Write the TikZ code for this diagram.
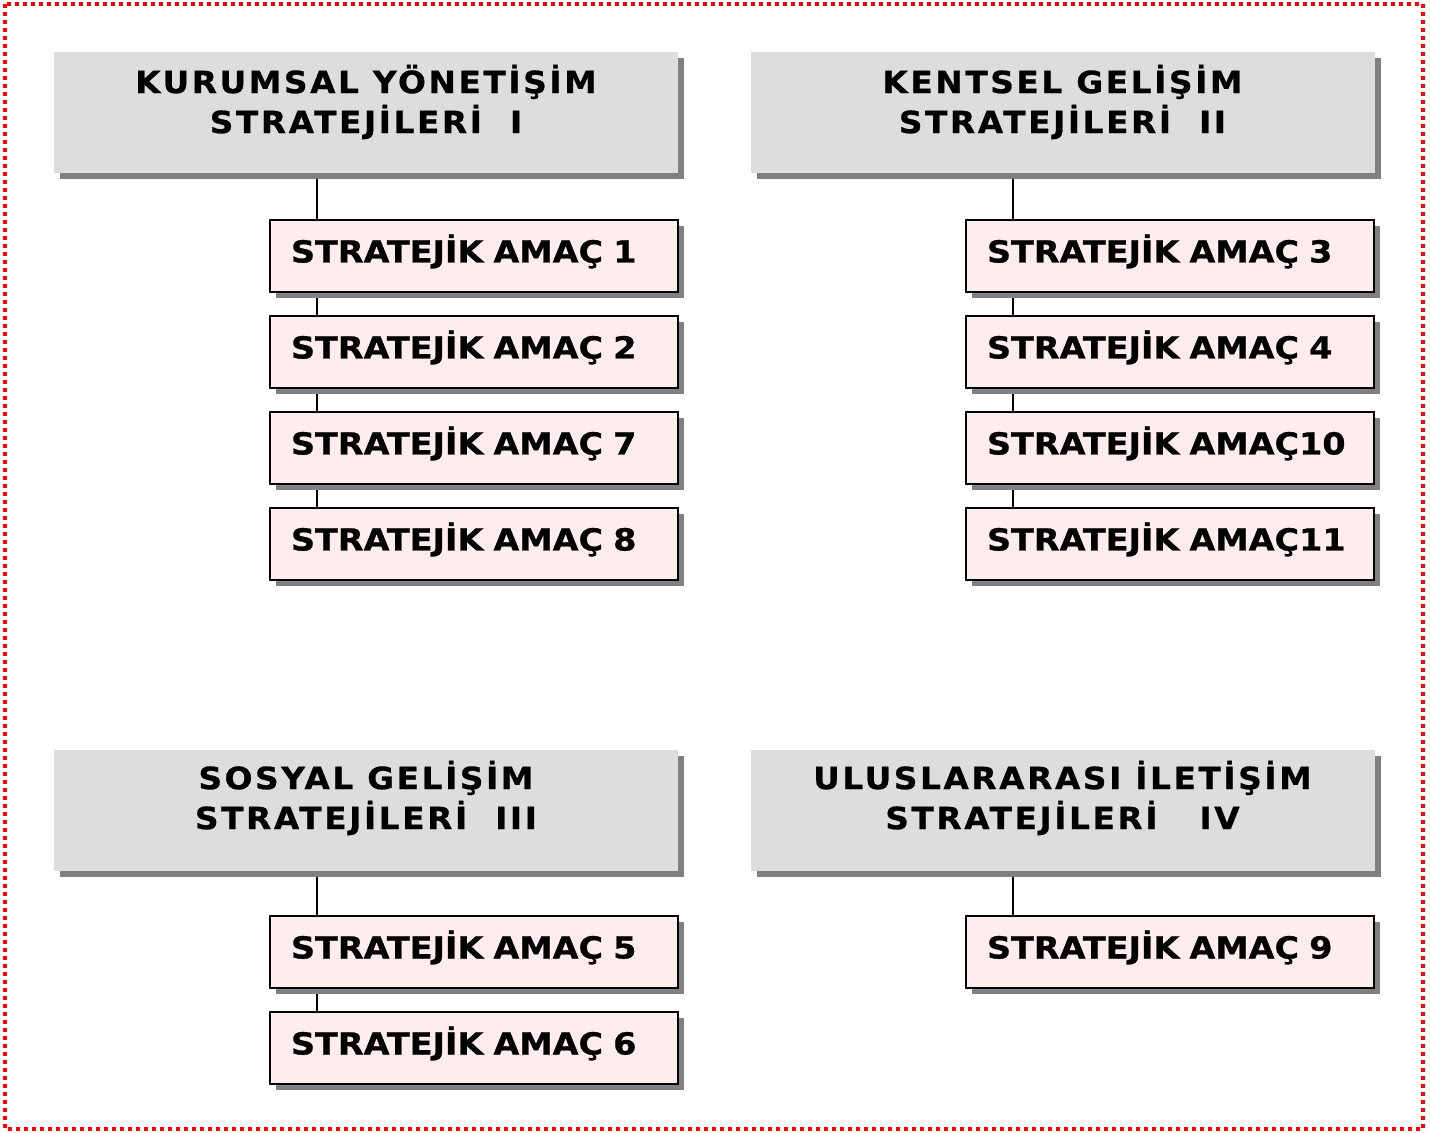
\documentclass[tikz,border=0pt]{standalone}
\usepackage{fontspec}
\setmainfont{DejaVu Sans}
\newfontfamily\headfont[FakeStretch=1.07,LetterSpace=8.5,FakeBold=0.8]{DejaVu Sans}
\newfontfamily\goalfont[FakeStretch=1.1,FakeBold=0.8]{DejaVu Sans}
\usetikzlibrary{shadows,backgrounds}

\definecolor{headgray}{HTML}{DDDDDD}
\definecolor{shadegray}{HTML}{808080}
\definecolor{goalpink}{RGB}{255,237,237}
\definecolor{frame}{RGB}{255,0,0}

\begin{document}
\begin{tikzpicture}[
  x=0.5pt, y=-0.5pt,
  border/.style={draw=frame, line width=2pt, dash pattern=on 2pt off 2pt},
  headbox/.style={fill=headgray, minimum width=312pt, minimum height=60.5pt, inner sep=0pt,
    drop shadow={shadow xshift=3pt, shadow yshift=-3pt, fill=shadegray, opacity=1}},
  headtxt/.style={align=center, font=\headfont\bfseries\fontsize{15.3}{20}\selectfont},
  goalbox/.style={draw=black, line width=1pt, fill=goalpink, minimum width=204pt, minimum height=36pt,
    text width=183pt, inner xsep=10.5pt, align=left, text height=11pt, text depth=4.5pt,
    font=\goalfont\bfseries\fontsize{15.2}{16}\selectfont,
    drop shadow={shadow xshift=3pt, shadow yshift=-3pt, fill=shadegray, opacity=1}},
  link/.style={line width=0.75pt, draw=black},
]

\useasboundingbox (0,0) rectangle (1430,1133);
\draw[border] (5,4) rectangle (1423,1129);

% strategy headers
\node[headbox] (h1) at (366,112.5) {};
\node[headbox] (h2) at (1062.5,112.5) {};
\node[headbox] (h3) at (366,810) {};
\node[headbox] (h4) at (1062.5,810) {};
\node[headtxt] (h1t) at ([yshift=5.25pt]h1.center) {KURUMSAL YÖNETİŞİM\\STRATEJİLERİ\ \ I};
\node[headtxt] (h2t) at ([yshift=5.25pt]h2.center) {KENTSEL GELİŞİM\\STRATEJİLERİ\ \ II};
\node[headtxt] (h3t) at ([yshift=6pt]h3.center) {SOSYAL GELİŞİM\\STRATEJİLERİ\ \ III};
\node[headtxt] (h4t) at ([yshift=6pt]h4.center) {ULUSLARARASI İLETİŞİM\\STRATEJİLERİ\ \ \ IV};

% goals
\foreach \n/\lab/\y in {g1/AMAÇ 1/256, g2/AMAÇ 2/352, g7/AMAÇ 7/448, g8/AMAÇ 8/544, g5/AMAÇ 5/952, g6/AMAÇ 6/1048} {
  \node[goalbox] (\n) at (474,\y) {STRATEJİK \lab};
}
\foreach \n/\lab/\y in {g3/AMAÇ 3/256, g4/AMAÇ 4/352, g10/AMAÇ10/448, g11/AMAÇ11/544, g9/AMAÇ 9/952} {
  \node[goalbox] (\n) at (1170,\y) {STRATEJİK \lab};
}

% trunks behind the boxes
\begin{scope}[on background layer]
  \path ([xshift=24pt]g1.north west) coordinate (c1)
        ([xshift=24pt]g3.north west) coordinate (c2)
        ([xshift=24pt]g5.north west) coordinate (c3)
        ([xshift=24pt]g9.north west) coordinate (c4);
  \draw[link] (c1 |- h1.south) -- (c1 |- g8.north);
  \draw[link] (c2 |- h2.south) -- (c2 |- g11.north);
  \draw[link] (c3 |- h3.south) -- (c3 |- g6.north);
  \draw[link] (c4 |- h4.south) -- (c4 |- g9.north);
\end{scope}

\end{tikzpicture}
\end{document}
